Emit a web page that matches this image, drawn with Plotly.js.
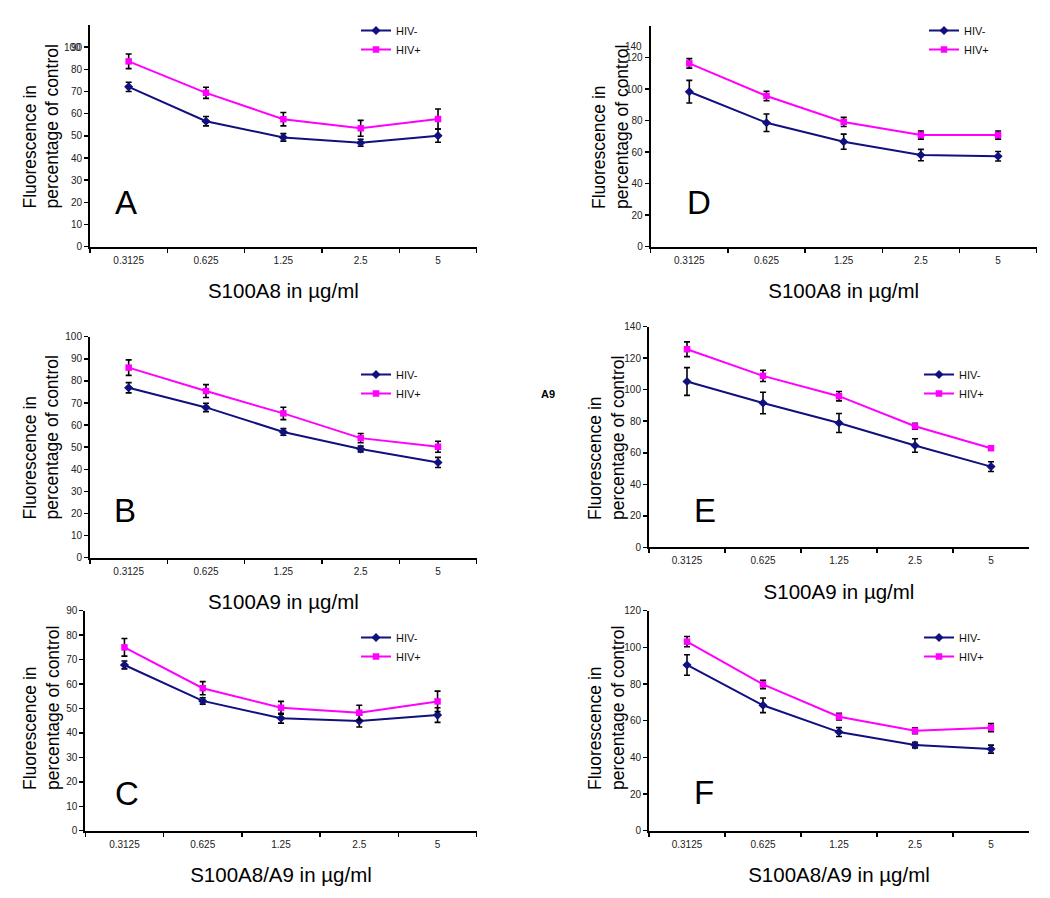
<!DOCTYPE html>
<html>
<head>
<meta charset="utf-8">
<script src="https://cdn.plot.ly/plotly-3.0.1.min.js"></script>
<style>html,body{margin:0;padding:0;background:#fff;}#chart{width:1050px;height:898px;}</style>
</head>
<body>
<div id="chart"></div>
<script>
// ---- data ----
const cats = ["0.3125", "0.625", "1.25", "2.5", "5"];
const seriesNames = ["HIV-", "HIV+"];

const A_neg = [72.1, 56.6, 49.3, 46.9, 50.1];
const A_neg_err = [2.1, 2.1, 1.7, 1.6, 3.0];
const A_pos = [83.6, 69.4, 57.5, 53.4, 57.6];
const A_pos_err = [3.3, 2.5, 3.0, 3.6, 4.5];

const B_neg = [76.9, 68.0, 56.9, 49.2, 43.1];
const B_neg_err = [2.3, 1.9, 1.5, 1.3, 2.3];
const B_pos = [86.0, 75.4, 65.3, 54.1, 50.2];
const B_pos_err = [3.5, 2.9, 2.8, 2.1, 2.5];

const C_neg = [67.8, 53.1, 46.0, 44.9, 47.3];
const C_neg_err = [1.6, 1.3, 2.0, 2.5, 3.0];
const C_pos = [75.0, 58.3, 50.3, 48.3, 52.9];
const C_pos_err = [3.6, 2.7, 2.6, 3.0, 4.2];

const D_neg = [98.4, 78.7, 66.7, 58.2, 57.4];
const D_neg_err = [7.2, 5.6, 4.8, 3.6, 3.0];
const D_pos = [116.4, 95.7, 79.2, 70.9, 70.9];
const D_pos_err = [3.0, 3.0, 2.9, 2.6, 2.6];

const E_neg = [105.2, 91.6, 78.9, 64.6, 51.2];
const E_neg_err = [8.8, 6.8, 6.0, 4.3, 3.1];
const E_pos = [125.7, 108.8, 95.9, 76.8, 62.9];
const E_pos_err = [4.7, 3.6, 3.0, 1.9, 1.0];

const F_neg = [90.4, 68.4, 53.8, 46.7, 44.5];
const F_neg_err = [5.6, 4.0, 2.4, 1.5, 2.2];
const F_pos = [103.1, 79.8, 62.2, 54.5, 56.2];
const F_pos_err = [2.8, 2.3, 1.8, 1.6, 2.2];

const panelLetters = ["A", "D", "B", "E", "C", "F"];
const xTitles = ["S100A8 in µg/ml", "S100A8 in µg/ml", "S100A9 in µg/ml", "S100A9 in µg/ml", "S100A8/A9 in µg/ml", "S100A8/A9 in µg/ml"];
const yTitle = "Fluorescence in<br>percentage of control";
const yMax = [100, 140, 100, 140, 90, 120];
const yStep = [10, 20, 10, 20, 10, 20];

// ---- layout helpers (pixels -> paper) ----
const W = 1050, H = 898;
const px = v => v / W;
const py = v => 1 - v / H;
const FONT = "Liberation Sans, Arial, Helvetica, sans-serif";
const NAVY = "#10107e", MAG = "#ff00ff";

// panel boxes: [left, right, top, bottom] in px
const boxes = [
  [90, 476.7, 25, 246.7],       // A
  [650.7, 1036.7, 26.2, 246.7], // D
  [90, 476.7, 336.7, 557.7],    // B
  [649, 1029, 326.7, 547.3],    // E
  [85.3, 476.7, 610.7, 830.7],  // C
  [649, 1029, 610.7, 830.7]     // F
];
// legend anchor: [box left px, box top px]
const legPos = [[356, 16], [924, 16], [356, 360], [919, 360], [356, 623], [919, 623]];
// letter positions (center px)
const letterPos = [[126, 203], [699, 203], [125, 510], [705, 510], [127, 793], [704, 792]];
// y-title block centers (px)
const yTitlePos = [[40.5, 127], [610, 127], [40.5, 438], [606, 438], [41, 708], [606, 708]];

const dataSets = [
  [A_neg, A_neg_err, A_pos, A_pos_err],
  [D_neg, D_neg_err, D_pos, D_pos_err],
  [B_neg, B_neg_err, B_pos, B_pos_err],
  [E_neg, E_neg_err, E_pos, E_pos_err],
  [C_neg, C_neg_err, C_pos, C_pos_err],
  [F_neg, F_neg_err, F_pos, F_pos_err]
];

const traces = [];
const layout = {
  width: W, height: H,
  margin: {l: 0, r: 0, t: 0, b: 0},
  paper_bgcolor: "#ffffff", plot_bgcolor: "#ffffff",
  font: {family: FONT, color: "#111"},
  showlegend: true,
  annotations: [],
  shapes: []
};

dataSets.forEach((ds, i) => {
  const n = i + 1;
  const xa = n === 1 ? "x" : "x" + n;
  const ya = n === 1 ? "y" : "y" + n;
  const lg = n === 1 ? "legend" : "legend" + n;
  const common = {type: "scatter", mode: "lines+markers", x: cats, xaxis: xa, yaxis: ya, legend: lg, cliponaxis: false};
  traces.push(Object.assign({}, common, {
    name: seriesNames[0], y: ds[0],
    line: {color: NAVY, width: 2},
    marker: {symbol: "diamond", size: 7, color: NAVY},
    error_y: {type: "data", array: ds[1], visible: true, color: "#000", thickness: 1.6, width: 3}
  }));
  traces.push(Object.assign({}, common, {
    name: seriesNames[1], y: ds[2],
    line: {color: MAG, width: 2},
    marker: {symbol: "square", size: 6.5, color: MAG},
    error_y: {type: "data", array: ds[3], visible: true, color: "#000", thickness: 1.6, width: 3}
  }));

  const b = boxes[i];
  const tv = [];
  for (let v = 0; v <= yMax[i] + 1e-9; v += yStep[i]) tv.push(v);
  let tickvals = tv;
  if (i === 0) tickvals = tv.filter(v => v !== 100);
  if (i === 1) tickvals = tv.filter(v => v !== 140);

  layout["xaxis" + (n === 1 ? "" : n)] = {
    domain: [px(b[0]), px(b[1])], anchor: ya,
    type: "category", range: [-0.5, 4.5],
    showline: true, linecolor: "#000", linewidth: 2,
    ticks: "outside", tickson: "boundaries", ticklen: 4, tickwidth: 1.5, tickcolor: "#000",
    ticklabelstandoff: 3,
    showgrid: false, zeroline: false,
    tickfont: {size: 10, family: FONT, color: "#222"},
    title: {text: xTitles[i], font: {size: 20.5, family: FONT, color: "#000"}, standoff: 19},
    fixedrange: true
  };
  layout["yaxis" + (n === 1 ? "" : n)] = {
    domain: [py(b[3]), py(b[2])], anchor: xa,
    range: [0, yMax[i]],
    tickmode: "array", tickvals: tickvals,
    showline: true, linecolor: "#000", linewidth: 2,
    ticks: "outside", ticklen: 4, tickwidth: 1.5, tickcolor: "#000",
    showgrid: false, zeroline: false,
    tickfont: {size: 10, family: FONT, color: "#222"},
    fixedrange: true
  };

  const lp = legPos[i];
  layout[lg] = {
    x: px(lp[0]), y: py(lp[1]), xanchor: "left", yanchor: "top",
    bgcolor: "rgba(255,255,255,0)", borderwidth: 0,
    font: {size: 11, family: FONT, color: "#111"},
    itemwidth: 30, tracegroupgap: 0
  };

  layout.annotations.push({
    text: panelLetters[i], xref: "paper", yref: "paper",
    x: px(letterPos[i][0]), y: py(letterPos[i][1]),
    xanchor: "center", yanchor: "middle", showarrow: false,
    font: {size: 33, family: FONT, color: "#000"}
  });
  // y-axis title (two lines, start-aligned as in the original)
  layout.annotations.push({
    text: yTitle, xref: "paper", yref: "paper",
    x: px(yTitlePos[i][0]), y: py(yTitlePos[i][1]),
    xanchor: "center", yanchor: "middle", showarrow: false,
    textangle: -90, align: "left",
    font: {size: 17.5, family: FONT, color: "#000"}
  });
});

// overlapping top tick labels, as in the original figure
layout.annotations.push({
  text: "100", xref: "paper", yref: "y", x: px(83), y: 90,
  xanchor: "right", yanchor: "middle", showarrow: false,
  font: {size: 10, family: FONT, color: "#222"}
});
layout.annotations.push({
  text: "140", xref: "paper", yref: "y2", x: px(643.5), y: 127,
  xanchor: "right", yanchor: "middle", showarrow: false,
  font: {size: 10, family: FONT, color: "#222"}
});
// stray panel label in the original
layout.annotations.push({
  text: "<b>A9</b>", xref: "paper", yref: "paper", x: px(548), y: py(394),
  xanchor: "center", yanchor: "middle", showarrow: false,
  font: {size: 11, family: FONT, color: "#000"}
});

Plotly.newPlot("chart", traces, layout, {displayModeBar: false, staticPlot: true});
</script>
</body>
</html>
